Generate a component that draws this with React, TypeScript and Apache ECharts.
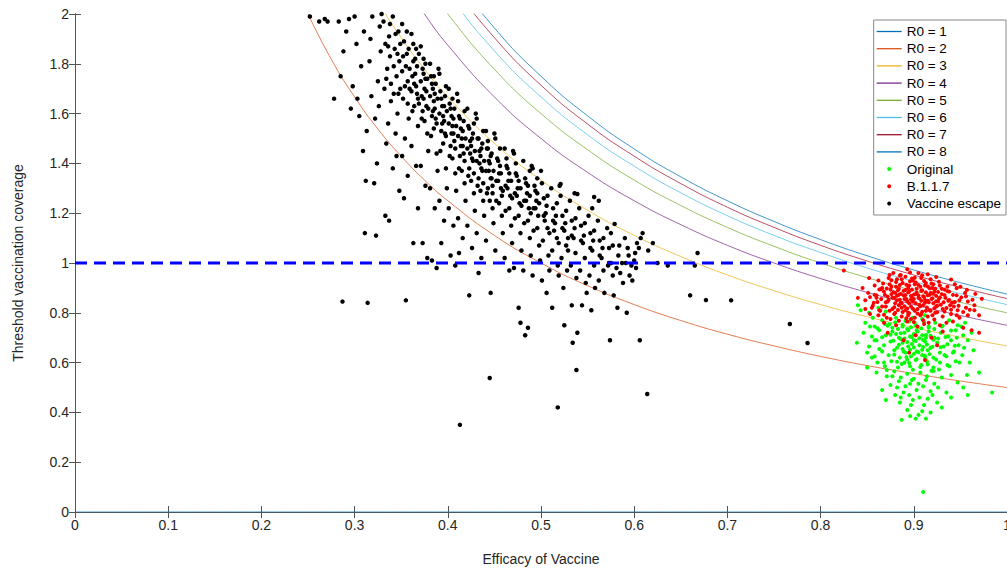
import React, { useEffect, useRef } from "react";
import * as echarts from "echarts";

// ---------- data ----------
const r0Names = ["R0 = 1", "R0 = 2", "R0 = 3", "R0 = 4", "R0 = 5", "R0 = 6", "R0 = 7", "R0 = 8"];
const r0Colors = ["#0072BD", "#D95319", "#EDB120", "#7E2F8E", "#77AC30", "#4DBEEE", "#A2142F", "#0072BD"];

const r0OneX = [0, 1];
const r0_1 = [0, 0];
const curveX = [0.25, 0.275, 0.3, 0.325, 0.35, 0.375, 0.4, 0.45, 0.5, 0.55, 0.6, 0.65, 0.7, 0.75, 0.8, 0.85, 0.9, 0.95, 1.0];
const r0_2 = [2.0, 1.818, 1.667, 1.538, 1.429, 1.333, 1.25, 1.111, 1.0, 0.909, 0.833, 0.769, 0.714, 0.667, 0.625, 0.588, 0.556, 0.526, 0.5];
const r0_3 = [2.667, 2.424, 2.222, 2.051, 1.905, 1.778, 1.667, 1.481, 1.333, 1.212, 1.111, 1.026, 0.952, 0.889, 0.833, 0.784, 0.741, 0.702, 0.667];
const r0_4 = [3.0, 2.727, 2.5, 2.308, 2.143, 2.0, 1.875, 1.667, 1.5, 1.364, 1.25, 1.154, 1.071, 1.0, 0.9375, 0.882, 0.833, 0.789, 0.75];
const r0_5 = [3.2, 2.909, 2.667, 2.462, 2.286, 2.133, 2.0, 1.778, 1.6, 1.455, 1.333, 1.231, 1.143, 1.067, 1.0, 0.941, 0.889, 0.842, 0.8];
const r0_6 = [3.333, 3.03, 2.778, 2.564, 2.381, 2.222, 2.083, 1.852, 1.667, 1.515, 1.389, 1.282, 1.19, 1.111, 1.042, 0.98, 0.926, 0.877, 0.833];
const r0_7 = [3.429, 3.117, 2.857, 2.637, 2.449, 2.286, 2.143, 1.905, 1.714, 1.558, 1.429, 1.319, 1.224, 1.143, 1.071, 1.008, 0.952, 0.902, 0.857];
const r0_8 = [3.5, 3.182, 2.917, 2.692, 2.5, 2.333, 2.188, 1.944, 1.75, 1.591, 1.458, 1.346, 1.25, 1.167, 1.094, 1.029, 0.972, 0.921, 0.875];

const thresholdLine = [[0, 1], [1, 1]];

const originalPtsA = [
  [0.84, 0.83], [0.843, 0.81], [0.852, 0.8], [0.862, 0.82], [0.87, 0.805], [0.856, 0.78],
  [0.848, 0.76], [0.858, 0.745], [0.866, 0.77], [0.874, 0.755], [0.881, 0.78], [0.888, 0.745], [0.895, 0.765], [0.902, 0.75], [0.909, 0.775], [0.916, 0.74], [0.923, 0.76], [0.93, 0.745], [0.938, 0.77], [0.947, 0.75], [0.955, 0.76], [0.877, 0.74], [0.899, 0.78], [0.912, 0.79],
  [0.846, 0.72], [0.855, 0.705], [0.863, 0.73], [0.87, 0.71], [0.877, 0.725], [0.884, 0.7], [0.89, 0.72], [0.896, 0.705], [0.903, 0.73], [0.909, 0.71], [0.916, 0.725], [0.922, 0.7], [0.929, 0.72], [0.937, 0.705], [0.945, 0.73], [0.953, 0.71], [0.962, 0.72], [0.881, 0.715], [0.9, 0.715], [0.913, 0.7], [0.893, 0.735],
  [0.839, 0.68], [0.852, 0.665], [0.86, 0.69], [0.868, 0.67], [0.875, 0.685], [0.882, 0.66], [0.888, 0.68], [0.894, 0.665], [0.9, 0.69], [0.906, 0.67], [0.912, 0.685], [0.918, 0.66], [0.925, 0.68], [0.932, 0.665], [0.94, 0.69], [0.948, 0.67], [0.964, 0.65], [0.886, 0.695], [0.898, 0.675], [0.91, 0.663], [0.921, 0.692],
  [0.85, 0.64], [0.858, 0.625], [0.866, 0.645], [0.873, 0.63], [0.879, 0.65], [0.885, 0.62], [0.891, 0.64], [0.897, 0.625], [0.903, 0.645], [0.909, 0.63], [0.915, 0.65], [0.921, 0.62], [0.928, 0.64], [0.935, 0.625], [0.943, 0.645], [0.952, 0.63], [0.888, 0.655], [0.9, 0.635], [0.912, 0.618],
  [0.85, 0.58], [0.861, 0.6], [0.869, 0.585], [0.876, 0.605], [0.883, 0.58], [0.89, 0.6], [0.896, 0.585], [0.902, 0.61], [0.908, 0.59], [0.914, 0.605], [0.921, 0.58], [0.928, 0.6], [0.936, 0.59], [0.945, 0.605], [0.893, 0.612],
  [0.86, 0.56], [0.871, 0.545], [0.879, 0.565], [0.886, 0.54], [0.893, 0.555], [0.9, 0.535], [0.907, 0.56], [0.914, 0.545], [0.921, 0.565], [0.93, 0.54], [0.94, 0.55], [0.957, 0.55],
  [0.866, 0.49], [0.875, 0.51], [0.882, 0.5], [0.889, 0.48], [0.896, 0.515], [0.903, 0.49], [0.91, 0.505], [0.918, 0.485], [0.926, 0.5], [0.935, 0.48], [0.953, 0.5], [0.984, 0.48], [0.88, 0.47],
  [0.885, 0.44], [0.893, 0.41], [0.899, 0.45], [0.905, 0.39], [0.911, 0.43], [0.918, 0.4], [0.925, 0.44], [0.887, 0.37], [0.902, 0.375], [0.93, 0.42],
  [0.91, 0.08],
];
const originalPtsB = [
  [0.872, 0.748], [0.875, 0.712], [0.878, 0.688], [0.879, 0.632], [0.88, 0.762], [0.882, 0.603], [0.883, 0.735], [0.884, 0.672], [0.886, 0.718], [0.887, 0.594], [0.888, 0.752], [0.889, 0.645], [0.89, 0.697], [0.891, 0.768], [0.892, 0.622], [0.893, 0.683], [0.894, 0.73], [0.895, 0.598], [0.896, 0.652], [0.897, 0.742], [0.898, 0.703], [0.899, 0.571], [0.9, 0.661], [0.901, 0.76], [0.902, 0.687], [0.903, 0.614], [0.904, 0.725], [0.905, 0.642], [0.906, 0.698], [0.907, 0.582], [0.908, 0.738], [0.909, 0.652], [0.91, 0.691], [0.911, 0.763], [0.912, 0.628], [0.913, 0.711], [0.914, 0.673], [0.915, 0.593], [0.916, 0.745], [0.917, 0.634], [0.918, 0.708], [0.919, 0.567], [0.92, 0.664], [0.922, 0.735], [0.924, 0.612], [0.926, 0.697], [0.927, 0.572], [0.929, 0.662], [0.931, 0.748], [0.933, 0.63], [0.934, 0.703], [0.936, 0.674], [0.938, 0.585], [0.94, 0.729], [0.942, 0.64], [0.944, 0.668], [0.946, 0.7], [0.949, 0.6], [0.951, 0.745], [0.954, 0.66], [0.958, 0.69],
  [0.866, 0.702], [0.863, 0.655], [0.861, 0.738], [0.858, 0.69], [0.855, 0.62], [0.853, 0.745], [0.868, 0.6], [0.869, 0.755], [0.871, 0.57], [0.877, 0.545], [0.884, 0.525], [0.891, 0.505], [0.898, 0.53], [0.905, 0.515], [0.913, 0.53], [0.922, 0.515], [0.886, 0.46], [0.895, 0.47], [0.906, 0.46], [0.915, 0.455], [0.92, 0.47], [0.897, 0.43], [0.909, 0.405], [0.896, 0.385], [0.913, 0.375], [0.87, 0.45], [0.94, 0.46], [0.947, 0.52], [0.96, 0.6], [0.97, 0.56], [0.958, 0.47],
];

const b117PtsA = [
  [0.825, 0.97], [0.878, 0.96], [0.893, 0.975], [0.905, 0.96], [0.915, 0.955], [0.885, 0.95],
  [0.862, 0.93], [0.873, 0.94], [0.882, 0.935], [0.891, 0.945], [0.899, 0.93], [0.908, 0.94], [0.918, 0.935], [0.927, 0.925], [0.852, 0.94],
  [0.858, 0.91], [0.866, 0.9], [0.874, 0.915], [0.881, 0.905], [0.888, 0.92], [0.894, 0.9], [0.901, 0.915], [0.907, 0.905], [0.913, 0.92], [0.92, 0.9], [0.928, 0.91], [0.936, 0.905], [0.944, 0.915],
  [0.851, 0.88], [0.86, 0.87], [0.868, 0.885], [0.876, 0.875], [0.883, 0.89], [0.889, 0.87], [0.895, 0.885], [0.902, 0.875], [0.909, 0.89], [0.915, 0.87], [0.922, 0.885], [0.93, 0.875], [0.938, 0.885], [0.946, 0.87], [0.955, 0.88], [0.872, 0.865], [0.898, 0.862], [0.918, 0.88],
  [0.848, 0.85], [0.857, 0.84], [0.865, 0.855], [0.872, 0.845], [0.879, 0.86], [0.886, 0.84], [0.892, 0.855], [0.899, 0.845], [0.905, 0.86], [0.912, 0.84], [0.919, 0.855], [0.926, 0.845], [0.934, 0.86], [0.941, 0.84], [0.949, 0.85], [0.958, 0.845], [0.882, 0.85], [0.908, 0.848], [0.895, 0.838],
  [0.855, 0.82], [0.863, 0.81], [0.87, 0.825], [0.877, 0.815], [0.884, 0.83], [0.891, 0.81], [0.897, 0.825], [0.904, 0.815], [0.91, 0.83], [0.917, 0.81], [0.924, 0.825], [0.931, 0.815], [0.939, 0.83], [0.947, 0.81], [0.956, 0.82], [0.965, 0.83], [0.887, 0.82], [0.901, 0.808],
  [0.862, 0.79], [0.871, 0.78], [0.879, 0.795], [0.887, 0.785], [0.894, 0.8], [0.901, 0.78], [0.908, 0.795], [0.915, 0.785], [0.923, 0.8], [0.931, 0.785], [0.94, 0.795], [0.949, 0.78], [0.958, 0.79],
  [0.868, 0.76], [0.881, 0.75], [0.893, 0.765], [0.904, 0.745], [0.916, 0.76], [0.928, 0.75], [0.942, 0.765], [0.953, 0.74], [0.897, 0.775], [0.91, 0.77],
  [0.872, 0.72], [0.902, 0.71], [0.931, 0.725], [0.962, 0.73], [0.919, 0.7], [0.889, 0.69], [0.97, 0.72],
  [0.895, 0.64], [0.912, 0.61], [0.925, 0.67],
];
const b117PtsB = [
  [0.876, 0.905], [0.884, 0.872], [0.891, 0.892], [0.897, 0.868], [0.903, 0.897], [0.911, 0.863], [0.917, 0.899], [0.924, 0.868], [0.887, 0.838], [0.893, 0.817], [0.906, 0.832], [0.913, 0.808], [0.921, 0.838], [0.928, 0.862], [0.879, 0.822], [0.87, 0.842], [0.875, 0.893], [0.902, 0.922], [0.912, 0.91], [0.898, 0.938], [0.921, 0.915], [0.933, 0.893], [0.937, 0.848], [0.943, 0.825], [0.88, 0.8], [0.894, 0.79], [0.907, 0.79], [0.92, 0.79], [0.933, 0.805], [0.866, 0.825], [0.86, 0.86], [0.865, 0.895], [0.885, 0.912], [0.89, 0.855], [0.9, 0.855], [0.915, 0.848], [0.925, 0.828], [0.905, 0.87], [0.895, 0.91], [0.88, 0.88],
  [0.867, 0.918], [0.869, 0.872], [0.871, 0.898], [0.873, 0.852], [0.874, 0.808], [0.876, 0.931], [0.877, 0.861], [0.878, 0.883], [0.88, 0.838], [0.881, 0.924], [0.882, 0.868], [0.883, 0.811], [0.884, 0.897], [0.885, 0.852], [0.886, 0.876], [0.887, 0.935], [0.888, 0.803], [0.889, 0.888], [0.89, 0.826], [0.891, 0.871], [0.892, 0.913], [0.893, 0.846], [0.894, 0.882], [0.895, 0.798], [0.896, 0.927], [0.897, 0.853], [0.898, 0.893], [0.899, 0.816], [0.9, 0.873], [0.901, 0.941], [0.902, 0.838], [0.903, 0.881], [0.904, 0.797], [0.905, 0.912], [0.906, 0.858], [0.907, 0.826], [0.908, 0.888], [0.909, 0.804], [0.91, 0.867], [0.911, 0.928], [0.912, 0.851], [0.913, 0.882], [0.914, 0.821], [0.915, 0.906], [0.916, 0.842], [0.917, 0.872], [0.918, 0.808], [0.919, 0.918], [0.92, 0.858], [0.921, 0.877], [0.922, 0.818], [0.923, 0.897], [0.924, 0.846], [0.925, 0.802], [0.926, 0.884], [0.927, 0.856], [0.929, 0.832], [0.93, 0.897], [0.932, 0.842], [0.933, 0.871], [0.935, 0.819], [0.936, 0.887], [0.938, 0.851], [0.94, 0.812], [0.942, 0.872], [0.944, 0.843], [0.946, 0.899], [0.948, 0.828], [0.951, 0.862], [0.953, 0.803], [0.956, 0.866], [0.96, 0.812], [0.963, 0.852],
  [0.858, 0.872], [0.861, 0.843], [0.863, 0.894], [0.864, 0.808], [0.856, 0.828], [0.853, 0.863], [0.868, 0.792], [0.875, 0.775], [0.884, 0.768], [0.892, 0.778], [0.9, 0.763], [0.911, 0.755], [0.922, 0.773], [0.935, 0.76], [0.946, 0.79], [0.886, 0.952], [0.896, 0.962], [0.909, 0.951], [0.924, 0.944], [0.874, 0.952], [0.94, 0.934], [0.95, 0.905], [0.957, 0.892], [0.966, 0.876], [0.973, 0.856], [0.965, 0.81], [0.97, 0.79], [0.848, 0.815], [0.853, 0.795], [0.845, 0.9], [0.84, 0.86],
];

const escapePtsA = [
  [0.252, 1.99], [0.262, 1.97], [0.268, 1.98], [0.271, 1.97],
  [0.283, 1.97], [0.278, 1.66], [0.285, 1.75], [0.288, 1.85], [0.291, 1.93], [0.294, 1.98], [0.296, 1.62], [0.287, 0.845],
  [0.3, 1.99], [0.302, 1.88], [0.303, 1.66], [0.305, 1.59], [0.307, 1.79], [0.309, 1.45], [0.31, 1.93], [0.298, 1.71],
  [0.312, 1.33], [0.314, 0.84], [0.316, 1.81], [0.318, 1.67], [0.311, 1.12], [0.319, 1.99], [0.313, 1.53], [0.317, 1.9],
  [0.321, 1.32], [0.323, 1.11], [0.325, 1.73], [0.327, 1.95], [0.322, 1.58], [0.328, 1.85], [0.326, 1.63], [0.329, 2.0], [0.324, 1.4],
  [0.331, 1.97], [0.333, 1.88], [0.335, 1.78], [0.337, 1.91], [0.332, 1.7], [0.336, 1.56], [0.338, 1.83], [0.334, 1.48], [0.339, 1.65], [0.333, 1.19], [0.337, 1.17],
  [0.341, 1.99], [0.343, 1.86], [0.345, 1.75], [0.347, 1.93], [0.342, 1.68], [0.346, 1.6], [0.348, 1.81], [0.344, 1.52], [0.349, 1.7], [0.341, 1.38], [0.345, 1.43], [0.348, 1.29],
  [0.351, 1.96], [0.353, 1.89], [0.355, 1.79], [0.357, 1.73], [0.352, 1.66], [0.356, 1.84], [0.358, 1.58], [0.354, 1.5], [0.359, 1.7], [0.351, 1.43], [0.355, 0.85], [0.357, 1.35], [0.353, 1.26],
  [0.361, 1.92], [0.363, 1.81], [0.365, 1.76], [0.367, 1.68], [0.362, 1.61], [0.366, 1.86], [0.368, 1.55], [0.364, 1.72], [0.369, 1.64], [0.361, 1.47], [0.366, 1.39], [0.363, 1.08], [0.368, 1.22],
  [0.371, 1.87], [0.373, 1.78], [0.375, 1.7], [0.377, 1.63], [0.372, 1.58], [0.376, 1.74], [0.378, 1.52], [0.374, 1.66], [0.379, 1.45], [0.371, 1.39], [0.376, 1.31], [0.373, 1.08], [0.378, 1.02], [0.374, 1.82],
  [0.381, 1.8], [0.383, 1.72], [0.385, 1.65], [0.387, 1.58], [0.382, 1.51], [0.386, 1.68], [0.388, 1.44], [0.384, 1.61], [0.389, 1.37], [0.381, 1.3], [0.386, 1.22], [0.383, 1.01], [0.388, 0.98], [0.385, 1.75],
  [0.391, 1.76], [0.393, 1.66], [0.395, 1.59], [0.397, 1.52], [0.392, 1.45], [0.396, 1.63], [0.398, 1.38], [0.394, 1.56], [0.399, 1.3], [0.391, 1.25], [0.396, 1.17], [0.393, 1.08], [0.398, 1.71],
  [0.401, 1.7], [0.403, 1.62], [0.405, 1.55], [0.407, 1.49], [0.402, 1.43], [0.406, 1.58], [0.408, 1.36], [0.404, 1.52], [0.409, 1.29], [0.401, 1.22], [0.406, 1.15], [0.403, 1.03], [0.408, 0.99], [0.405, 1.66],
  [0.411, 1.65], [0.413, 1.58], [0.415, 1.5], [0.417, 1.44], [0.412, 1.38], [0.416, 1.53], [0.418, 1.32], [0.414, 1.47], [0.419, 1.25], [0.411, 1.18], [0.416, 1.1], [0.413, 0.35], [0.418, 1.61], [0.412, 1.04],
  [0.421, 1.62], [0.423, 1.54], [0.425, 1.47], [0.427, 1.41], [0.422, 1.35], [0.426, 1.5], [0.428, 1.28], [0.424, 1.44], [0.429, 1.21], [0.421, 1.15], [0.426, 1.06], [0.423, 0.87], [0.428, 1.56],
  [0.431, 1.58], [0.433, 1.5], [0.435, 1.43], [0.437, 1.37], [0.432, 1.31], [0.436, 1.46], [0.438, 1.25], [0.434, 1.4], [0.439, 1.19], [0.431, 1.12], [0.436, 1.02], [0.433, 0.96], [0.438, 1.53],
  [0.441, 1.53], [0.443, 1.46], [0.445, 1.4], [0.447, 1.34], [0.442, 1.28], [0.446, 1.43], [0.448, 1.22], [0.444, 1.37], [0.449, 1.16], [0.441, 1.09], [0.446, 0.88], [0.443, 1.49], [0.448, 1.31],
  [0.451, 1.5], [0.453, 1.42], [0.455, 1.36], [0.457, 1.3], [0.452, 1.25], [0.456, 1.39], [0.458, 1.19], [0.454, 1.33], [0.459, 1.12], [0.451, 1.05], [0.456, 1.46], [0.445, 0.538], [0.458, 1.27],
  [0.461, 1.46], [0.463, 1.39], [0.465, 1.33], [0.467, 1.27], [0.462, 1.21], [0.466, 1.36], [0.468, 1.15], [0.464, 1.3], [0.469, 1.08], [0.461, 1.02], [0.466, 0.97], [0.463, 1.42],
  [0.471, 1.44], [0.473, 1.36], [0.475, 1.3], [0.477, 1.24], [0.472, 1.18], [0.476, 1.33], [0.478, 1.12], [0.474, 1.27], [0.479, 1.05], [0.471, 0.98], [0.476, 0.82], [0.473, 1.4], [0.478, 0.76],
  [0.481, 1.41], [0.483, 1.34], [0.485, 1.28], [0.487, 1.22], [0.482, 1.16], [0.486, 1.31], [0.488, 1.1], [0.484, 1.25], [0.489, 1.03], [0.481, 0.97], [0.486, 0.74], [0.483, 0.71], [0.488, 1.37],
  [0.491, 1.38], [0.493, 1.31], [0.495, 1.25], [0.497, 1.19], [0.492, 1.13], [0.496, 1.28], [0.498, 1.07], [0.494, 1.22], [0.499, 1.01], [0.491, 0.95], [0.496, 1.34],
  [0.501, 1.32], [0.503, 1.26], [0.505, 1.2], [0.507, 1.14], [0.502, 1.09], [0.506, 1.23], [0.508, 1.03], [0.504, 1.17], [0.509, 0.97], [0.501, 0.93], [0.506, 0.88],
  [0.511, 1.3], [0.513, 1.22], [0.515, 1.16], [0.517, 1.1], [0.512, 1.05], [0.516, 1.19], [0.518, 0.99], [0.514, 1.13], [0.519, 0.95], [0.518, 0.42], [0.512, 0.82],
  [0.521, 1.27], [0.523, 1.19], [0.525, 1.13], [0.527, 1.07], [0.522, 1.02], [0.526, 1.16], [0.528, 0.97], [0.524, 0.9], [0.529, 1.1], [0.525, 0.75],
  [0.531, 1.25], [0.533, 1.17], [0.535, 1.1], [0.537, 1.04], [0.532, 0.99], [0.536, 1.14], [0.538, 0.94], [0.534, 0.68], [0.539, 0.72], [0.533, 0.83], [0.538, 0.57],
  [0.541, 1.22], [0.543, 1.15], [0.545, 1.08], [0.547, 1.02], [0.542, 0.97], [0.546, 1.11], [0.548, 0.92], [0.544, 0.83], [0.549, 0.88],
  [0.551, 1.19], [0.553, 1.12], [0.555, 1.05], [0.557, 0.99], [0.552, 0.95], [0.556, 1.09], [0.558, 0.9], [0.554, 0.81],
  [0.561, 1.17], [0.563, 1.09], [0.565, 1.02], [0.567, 0.97], [0.562, 0.93], [0.566, 1.06], [0.568, 0.88], [0.574, 0.69],
  [0.571, 1.14], [0.573, 1.06], [0.575, 1.0], [0.577, 0.95], [0.572, 0.99], [0.578, 0.87],
  [0.581, 0.98], [0.583, 1.03], [0.585, 0.96], [0.587, 1.0], [0.582, 0.82], [0.588, 0.92],
  [0.591, 1.0], [0.593, 1.06], [0.595, 0.95], [0.597, 0.99], [0.592, 0.8], [0.598, 0.93],
  [0.601, 1.04], [0.603, 1.08], [0.605, 1.06], [0.607, 1.1], [0.602, 0.98], [0.609, 1.12], [0.606, 0.69],
  [0.614, 0.474], [0.636, 0.99], [0.66, 0.87], [0.668, 1.04], [0.665, 0.99], [0.677, 0.851], [0.704, 0.85], [0.767, 0.755], [0.786, 0.679],
];
const escapePtsB = [
  [0.334, 1.74], [0.338, 1.96], [0.336, 1.87], [0.342, 1.79], [0.339, 1.72], [0.344, 1.92], [0.346, 1.84], [0.347, 1.68], [0.349, 1.88], [0.351, 1.77], [0.352, 1.83], [0.354, 1.71], [0.356, 1.93], [0.357, 1.64], [0.358, 1.86], [0.359, 1.78], [0.361, 1.69], [0.362, 1.75], [0.363, 1.88], [0.364, 1.63], [0.365, 1.82], [0.366, 1.71], [0.367, 1.79], [0.368, 1.66], [0.369, 1.84],
  [0.371, 1.73], [0.372, 1.67], [0.373, 1.61], [0.374, 1.76], [0.375, 1.57], [0.376, 1.8], [0.377, 1.69], [0.378, 1.74], [0.379, 1.62], [0.381, 1.67], [0.382, 1.75], [0.383, 1.59], [0.384, 1.7], [0.385, 1.54], [0.386, 1.62], [0.387, 1.72], [0.388, 1.56], [0.389, 1.66], [0.391, 1.6], [0.392, 1.69], [0.393, 1.53], [0.394, 1.63], [0.395, 1.48], [0.396, 1.57], [0.397, 1.67], [0.398, 1.51], [0.399, 1.61],
  [0.401, 1.56], [0.402, 1.64], [0.403, 1.47], [0.404, 1.59], [0.405, 1.42], [0.406, 1.52], [0.407, 1.62], [0.408, 1.46], [0.409, 1.55], [0.411, 1.51], [0.412, 1.59], [0.413, 1.43], [0.414, 1.54], [0.415, 1.37], [0.416, 1.47], [0.417, 1.57], [0.418, 1.41], [0.419, 1.5], [0.421, 1.46], [0.422, 1.55], [0.423, 1.38], [0.424, 1.49], [0.425, 1.33], [0.426, 1.42], [0.427, 1.52], [0.428, 1.36], [0.429, 1.45],
  [0.431, 1.41], [0.432, 1.5], [0.433, 1.34], [0.434, 1.45], [0.435, 1.29], [0.436, 1.38], [0.437, 1.48], [0.438, 1.32], [0.439, 1.41], [0.441, 1.37], [0.442, 1.46], [0.443, 1.3], [0.444, 1.41], [0.445, 1.25], [0.446, 1.34], [0.447, 1.44], [0.448, 1.28], [0.449, 1.37],
  [0.452, 1.33], [0.454, 1.41], [0.455, 1.24], [0.457, 1.36], [0.459, 1.29], [0.462, 1.31], [0.464, 1.38], [0.466, 1.22], [0.468, 1.33], [0.469, 1.26], [0.472, 1.28], [0.474, 1.35], [0.476, 1.19], [0.478, 1.3], [0.479, 1.23], [0.482, 1.25], [0.484, 1.32], [0.486, 1.17], [0.488, 1.27], [0.489, 1.2], [0.492, 1.22], [0.494, 1.29], [0.496, 1.14], [0.498, 1.24],
  [0.503, 1.19], [0.507, 1.27], [0.509, 1.12], [0.513, 1.17], [0.517, 1.24], [0.519, 1.08], [0.523, 1.14], [0.527, 1.21], [0.529, 1.05], [0.533, 1.11], [0.537, 1.18], [0.543, 1.09], [0.547, 1.16], [0.553, 1.06], [0.557, 1.13], [0.563, 1.03], [0.567, 1.1], [0.573, 1.0], [0.577, 1.07], [0.584, 1.07], [0.594, 1.03], [0.6, 1.01],
  [0.43, 1.6], [0.45, 1.52], [0.47, 1.45], [0.49, 1.39], [0.5, 1.37], [0.52, 1.31], [0.536, 1.28], [0.555, 1.22], [0.41, 1.68], [0.39, 1.78],
  [0.521, 1.317], [0.539, 1.277], [0.557, 1.265], [0.562, 1.25], [0.579, 1.157], [0.575, 1.12], [0.59, 1.1], [0.62, 1.08], [0.615, 1.05], [0.625, 1.0],
];

// ---------- component ----------
const FONT = "'Liberation Sans', Arial, sans-serif";
const LINE_ICON = "path://M0,0H25V1.3H0Z";

export default function App() {
  const ref = useRef<HTMLDivElement | null>(null);

  useEffect(() => {
    if (!ref.current) return;
    const chart = echarts.init(ref.current, undefined, { renderer: "svg" });

    const curveYs = [null, r0_2, r0_3, r0_4, r0_5, r0_6, r0_7, r0_8];
    const lineSeries = r0Names.map((name, i) => {
      const data =
        i === 0
          ? r0OneX.map((x, k) => [x, r0_1[k]])
          : curveX.map((x, k) => [x, (curveYs[i] as number[])[k]]);
      return {
        name,
        type: "line",
        data,
        symbol: "none",
        showSymbol: false,
        smooth: true,
        clip: true,
        lineStyle: { color: r0Colors[i], width: 1, opacity: 0.75 },
        itemStyle: { color: r0Colors[i] },
        emphasis: { disabled: true },
        z: 2,
      };
    });

    const scatter = (name: string, data: number[][], color: string, size: number) => ({
      name,
      type: "scatter",
      data,
      symbol: "circle",
      symbolSize: size,
      clip: true,
      itemStyle: { color, opacity: 1 },
      emphasis: { disabled: true },
      z: 3,
    });

    const axisLine = { show: true, lineStyle: { color: "#555", width: 1 } };
    const axisTick = { show: true, inside: true, length: 6, lineStyle: { color: "#555" } };
    const fmt = (v: number) => String(parseFloat(v.toFixed(1)));

    chart.setOption({
      animation: false,
      backgroundColor: "#fff",
      grid: { left: 75, top: 14, width: 932, height: 498, containLabel: false, outerBoundsMode: "none" },
      legend: {
        orient: "vertical",
        right: 1,
        top: 20,
        padding: [4, 5, 4, 3],
        backgroundColor: "#fff",
        borderColor: "#888",
        borderWidth: 1,
        borderRadius: 0,
        itemWidth: 25,
        itemHeight: 4,
        itemGap: 2.2,
        textStyle: { fontFamily: FONT, fontSize: 13.5, color: "#000", lineHeight: 15 },
        data: [
          ...r0Names.map((n) => ({ name: n, icon: LINE_ICON })),
          { name: "Original", icon: "circle" },
          { name: "B.1.1.7", icon: "circle" },
          { name: "Vaccine escape", icon: "circle" },
        ],
        selectedMode: false,
      },
      xAxis: [
        {
          type: "value",
          min: 0,
          max: 1,
          interval: 0.1,
          name: "Efficacy of Vaccine",
          nameLocation: "middle",
          nameGap: 40,
          nameTextStyle: { fontFamily: FONT, fontSize: 14, color: "#262626" },
          axisLine,
          axisTick,
          splitLine: { show: false },
          axisLabel: { fontFamily: FONT, fontSize: 14, color: "#262626", margin: 6, formatter: fmt },
        },
        {
          type: "value",
          position: "top",
          min: 0,
          max: 1,
          interval: 0.1,
          axisLine,
          axisTick,
          axisLabel: { show: false },
          splitLine: { show: false },
        },
      ],
      yAxis: [
        {
          type: "value",
          min: 0,
          max: 2,
          interval: 0.2,
          name: "Threshold vaccination coverage",
          nameLocation: "middle",
          nameGap: 50,
          nameTextStyle: { fontFamily: FONT, fontSize: 14, color: "#262626" },
          axisLine,
          axisTick,
          splitLine: { show: false },
          axisLabel: { fontFamily: FONT, fontSize: 14, color: "#262626", margin: 6, formatter: fmt },
        },
        {
          type: "value",
          position: "right",
          min: 0,
          max: 2,
          interval: 0.2,
          axisLine,
          axisTick,
          axisLabel: { show: false },
          splitLine: { show: false },
        },
      ],
      series: [
        ...lineSeries,
        scatter("Original", [...originalPtsA, ...originalPtsB], "#00FF00", 4),
        scatter("B.1.1.7", [...b117PtsA, ...b117PtsB], "#FF0000", 4),
        scatter("Vaccine escape", [...escapePtsA, ...escapePtsB], "#000000", 4.5),
        {
          name: "threshold",
          type: "line",
          data: thresholdLine,
          symbol: "none",
          lineStyle: { color: "#0000FF", width: 3, type: [12, 7] },
          emphasis: { disabled: true },
          z: 4,
        },
      ],
    });

    return () => chart.dispose();
  }, []);

  return (
    <div
      ref={ref}
      style={{ position: "fixed", left: 0, top: 0, width: 1007, height: 573, background: "#fff" }}
    />
  );
}
